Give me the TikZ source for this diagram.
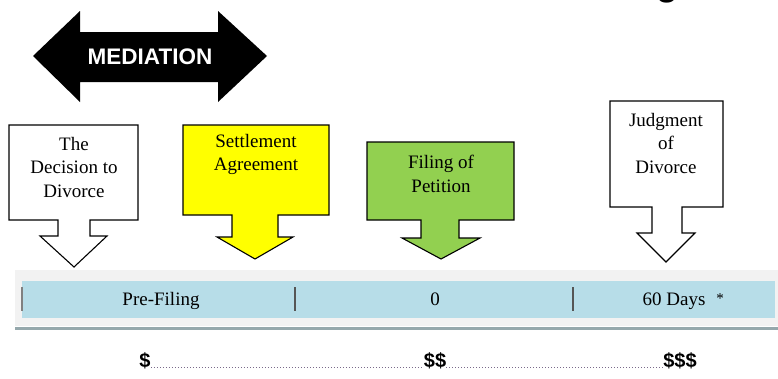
\documentclass[tikz,border=0pt]{standalone}
\usepackage{fontspec}
\setmainfont{Liberation Serif}
\newfontfamily\sansb{Liberation Sans}
\definecolor{calloutyellow}{HTML}{FFFF00}
\definecolor{calloutgreen}{HTML}{92D050}
\definecolor{barblue}{HTML}{B7DDE8}
\definecolor{bandgray}{HTML}{F2F2F2}
\definecolor{bandline}{HTML}{95A8AC}
\definecolor{sepgray}{HTML}{555555}
\definecolor{dotcol}{HTML}{7A6A8A}
\tikzset{
  callout/.style={draw=black, line width=1.1pt, line join=miter},
  boxtext/.style={font=\fontsize{19}{23.5}\selectfont, align=center, inner sep=0pt, anchor=north},
  bartext/.style={font=\fontsize{19}{23}\selectfont, inner sep=0pt, anchor=base},
  costtext/.style={font=\sansb\bfseries\fontsize{20}{22}\selectfont, inner sep=0pt, anchor=base},
  sepline/.style={draw=sepgray, line width=1.3pt},
  dotline/.style={draw=dotcol, line width=1pt, dotted}
}
\begin{document}
\begin{tikzpicture}[x=1pt,y=-1pt]
\useasboundingbox (0,0) rectangle (778,378);
% title fragment (cut off at top)
\node[anchor=base, inner sep=0pt, font=\sansb\bfseries\fontsize{36}{40}\selectfont] (titlefrag) at (667,-4.5) {g};
% mediation double arrow
\fill[black] (33,56) -- (80,11) -- (80,32) -- (218,32) -- (218,11) -- (267,56)
  -- (218,102) -- (218,82) -- (80,82) -- (80,102) -- cycle;
\node[text=white, inner sep=0pt, font=\sansb\bfseries\fontsize{22.5}{24}\selectfont] (mediation) at (150,57) {MEDIATION};
% callout 1: decision
\draw[callout, fill=white] (9,125) -- (138,125) -- (138,220) -- (90,220) -- (90,236) -- (107,236)
  -- (74,267) -- (40,236) -- (58,236) -- (58,220) -- (9,220) -- cycle;
\node[boxtext] (decision) at (74,137) {The\\Decision to\\Divorce};
% callout 2: settlement
\draw[callout, fill=calloutyellow] (183,125) -- (329,125) -- (329,215) -- (278,215) -- (278,237) -- (293,237)
  -- (255,259) -- (217,237) -- (232,237) -- (232,215) -- (183,215) -- cycle;
\node[boxtext] (settlement) at (256,134) {Settlement\\Agreement};
% callout 3: filing
\draw[callout, fill=calloutgreen] (367,142) -- (514,142) -- (514,220) -- (459,220) -- (459,238) -- (480,238)
  -- (441,259) -- (402,238) -- (421,238) -- (421,220) -- (367,220) -- cycle;
\node[boxtext] (filing) at (441,155) {Filing of\\Petition};
% callout 4: judgment
\draw[callout, fill=white] (610,101) -- (723,101) -- (723,207) -- (682,207) -- (682,233) -- (695,233)
  -- (666,262) -- (637,233) -- (652,233) -- (652,207) -- (610,207) -- cycle;
\node[boxtext] (judgment) at (666,113) {Judgment\\of\\Divorce};
% timeline bar
\fill[bandgray] (15,270) rectangle (778,326);
\fill[barblue] (22,281) rectangle (775,318);
\fill[bandline] (15,326.5) rectangle (778,330);
\draw[draw=gray, line width=2pt] (22,287) -- (22,311);
\draw[sepline] (295,287) -- (295,311);
\draw[sepline] (573,287) -- (573,311);
\node[bartext] (prefiling) at (161,305) {Pre-Filing};
\node[bartext] (zero) at (435,305) {0};
\node[bartext] (sixty) at (674,305) {60 Days};
\node[inner sep=0pt, anchor=base, font=\fontsize{15}{15}\selectfont] (star) at (720,303) {*};
% costs
\node[costtext] (cost1) at (145,367) {\$};
\node[costtext] (cost2) at (435,367) {\$\$};
\node[costtext] (cost3) at (680,367) {\$\$\$};
\draw[dotline] (cost1.base east) -- (cost2.base west);
\draw[dotline] (cost2.base east) -- (cost3.base west);
\end{tikzpicture}
\end{document}
